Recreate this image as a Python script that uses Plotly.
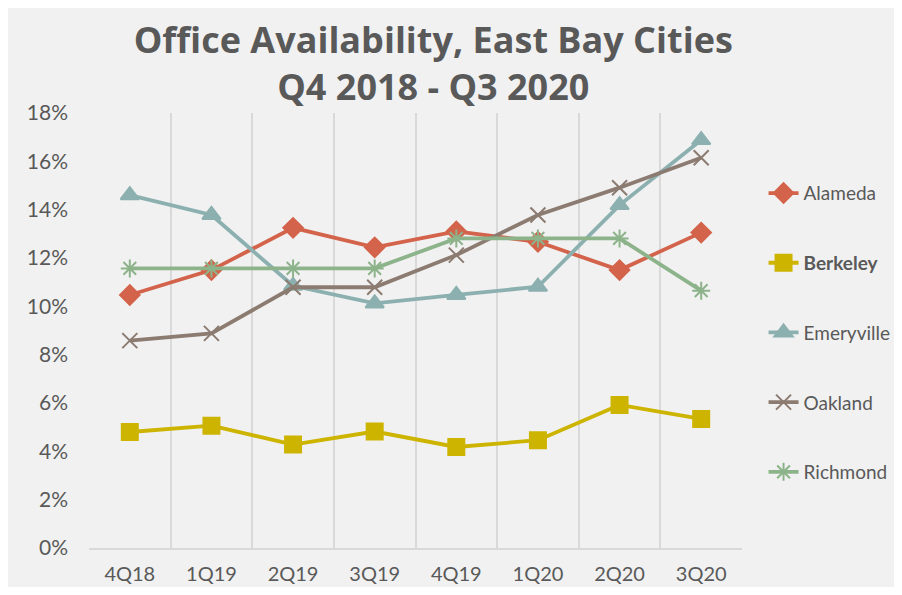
import plotly.graph_objects as go

quarters = ["4Q18", "1Q19", "2Q19", "3Q19", "4Q19", "1Q20", "2Q20", "3Q20"]

alameda = [10.47, 11.5, 13.25, 12.44, 13.1, 12.67, 11.5, 13.05]
berkeley = [4.8, 5.06, 4.28, 4.82, 4.18, 4.46, 5.92, 5.34]
emeryville = [14.6, 13.78, 10.85, 10.12, 10.47, 10.81, 14.19, 16.88]
oakland = [8.58, 8.88, 10.79, 10.79, 12.12, 13.78, 14.91, 16.15]
richmond = [11.57, 11.57, 11.57, 11.57, 12.81, 12.81, 12.81, 10.65]

GREY_TXT = "#595959"
GRID = "#d9d9d9"
BG = "#f1f1f1"
FONT = "Lato"

series = [
    ("Alameda", alameda, "#d3634a", "diamond", 15),
    ("<b>Berkeley</b>", berkeley, "#cdb400", "square", 16),
    ("Emeryville", emeryville, "#8cb0b0", "triangle-up", 16),
    ("Oakland", oakland, "#8b7b70", "x-thin-open", 15),
    ("Richmond", richmond, "#8db38a", "asterisk-open", 15),
]

fig = go.Figure()
for i, (name, vals, col, sym, sz) in enumerate(series):
    fig.add_trace(go.Scatter(
        x=quarters, y=vals, name=name, mode="lines+markers",
        line=dict(color=col, width=3.8),
        marker=dict(symbol=sym, size=sz, color=col,
                    line=dict(color=col, width=2)),
        legendgroup=f"g{i}",
    ))

# page body has an 8px margin, so figure is a bit smaller than the window
fig.update_layout(
    width=886, height=579,
    paper_bgcolor=BG, plot_bgcolor=BG,
    margin=dict(l=81, r=152, t=105, b=39, autoexpand=False),
    font=dict(family=FONT, color=GREY_TXT, size=20),
    title=dict(
        text="Office Availability, East Bay Cities<br>Q4 2018 - Q3 2020",
        font=dict(family="Open Sans", size=36, color=GREY_TXT, weight="bold"),
        x=0.48, xanchor="center", y=0.922, yanchor="bottom",
    ),
    legend=dict(
        x=1.033, xanchor="left", y=0.495, yanchor="middle",
        font=dict(family=FONT, size=19, color=GREY_TXT),
        tracegroupgap=42, bgcolor="rgba(0,0,0,0)",
    ),
    showlegend=True,
)

fig.update_xaxes(
    type="category", range=[-0.5, 7.5], tickson="boundaries",
    showgrid=True, gridcolor=GRID, gridwidth=1.5,
    showline=True, linecolor=GRID, linewidth=2,
    ticks="", ticklabelstandoff=7,
    tickfont=dict(family=FONT, size=20, color=GREY_TXT),
    zeroline=False,
)
fig.update_yaxes(
    range=[0, 18], dtick=2, ticksuffix="%",
    showgrid=False, zeroline=False,
    showline=False, ticks="", ticklabelstandoff=20,
    tickfont=dict(family=FONT, size=21, color=GREY_TXT),
)

fig.write_html("out.html")
